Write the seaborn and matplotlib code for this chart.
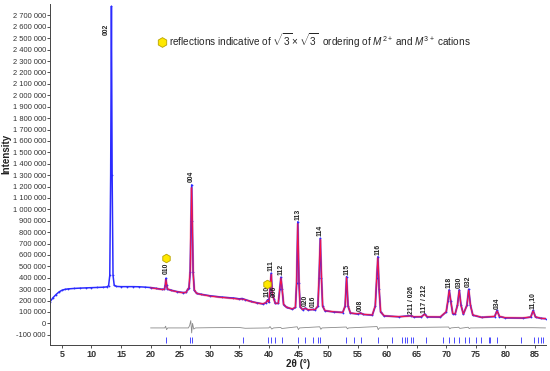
import numpy as np
import pandas as pd
import matplotlib
matplotlib.use("Agg")
import matplotlib.pyplot as plt
from matplotlib.ticker import FuncFormatter, MultipleLocator
from matplotlib.lines import Line2D
import seaborn as sns

obs_tt = [3.0, 3.5, 4.0, 4.5, 5.0, 5.5, 6.0, 7.0, 8.0, 9.0, 10.0, 11.0, 12.0, 12.6, 12.9, 13.1,
          13.25, 13.38, 13.5, 13.65, 13.85, 14.2, 15.0, 16.0, 17.0, 18.0, 19.0, 20.0, 21.0, 22.0,
          22.35, 22.5, 22.6, 22.7, 22.85, 23.5, 24.5, 25.5, 26.0, 26.3, 26.5, 26.7, 26.85, 26.95,
          27.05, 27.2, 27.4, 27.8, 28.5, 30.0, 32.0, 34.0, 35.0, 35.5, 36.0, 37.0, 38.0, 39.0,
          39.5, 39.8, 40.0, 40.2, 40.4, 40.6, 40.85, 41.1, 41.6, 41.85, 42.05, 42.25, 42.5, 43.0,
          44.0, 44.5, 44.7, 44.9, 45.1, 45.3, 45.7, 46.2, 46.6, 47.5, 47.8, 48.3, 48.5, 48.7,
          48.9, 49.1, 49.5, 51.0, 52.5, 52.9, 53.15, 53.4, 53.8, 55.0, 55.5, 56.0, 57.5, 58.0,
          58.25, 58.45, 58.65, 58.9, 59.5, 62.0, 64.1, 64.5, 65.8, 66.35, 66.8, 69.0, 70.0, 70.3,
          70.5, 70.75, 71.1, 71.5, 71.9, 72.2, 72.5, 72.9, 73.5, 73.8, 74.1, 74.5, 76.0, 78.2,
          78.6, 79.0, 80.0, 83.0, 84.3, 84.7, 85.1, 86.0, 86.8]
obs_int = [190000, 225000, 252000, 275000, 290000, 298000, 302000, 306000, 309000, 311000,
           313000, 315000, 317000, 320000, 330000, 420000, 1300000, 2780000, 1300000, 420000,
           335000, 324000, 322000, 322000, 322000, 321000, 318000, 314000, 306000, 298000,
           300000, 340000, 396000, 340000, 300000, 290000, 278000, 270000, 272000, 300000,
           310000, 450000, 900000, 1215000, 900000, 450000, 290000, 262000, 255000, 242000,
           230000, 222000, 215000, 218000, 208000, 192000, 180000, 170000, 180000, 207000,
           185000, 300000, 440000, 250000, 216000, 175000, 175000, 300000, 405000, 300000,
           165000, 140000, 125000, 140000, 350000, 891000, 350000, 145000, 120000, 134000,
           118000, 122000, 118000, 150000, 400000, 746000, 400000, 150000, 110000, 100000,
           95000, 150000, 410000, 150000, 90000, 82000, 91000, 78000, 72000, 150000, 400000,
           585000, 300000, 100000, 65000, 58000, 68000, 56000, 58000, 82000, 56000, 55000,
           100000, 200000, 294000, 200000, 85000, 80000, 160000, 294000, 160000, 80000, 160000,
           300000, 160000, 72000, 52000, 60000, 114000, 60000, 48000, 46000, 55000, 114000,
           55000, 44000, 41000]

# calculated pattern (refined range only)
calc_tt = [20.0, 21.0, 22.0, 22.35, 22.5, 22.6, 22.7, 22.85, 23.5, 24.5, 25.5, 26.0, 26.3, 26.5,
           26.7, 26.85, 26.95, 27.05, 27.2, 27.4, 27.8, 28.5, 30.0, 32.0, 34.0, 35.0, 35.5, 36.0,
           37.0, 38.0, 39.0, 39.5, 39.8, 40.0, 40.2, 40.4, 40.6, 40.85, 41.1, 41.6, 41.85, 42.05,
           42.25, 42.5, 43.0, 44.0, 44.5, 44.7, 44.9, 45.1, 45.3, 45.7, 46.2, 46.6, 47.5, 47.8,
           48.3, 48.5, 48.7, 48.9, 49.1, 49.5, 51.0, 52.5, 52.9, 53.15, 53.4, 53.8, 55.0, 55.5,
           56.0, 57.5, 58.0, 58.25, 58.45, 58.65, 58.9, 59.5, 62.0, 64.1, 64.5, 65.8, 66.35, 66.8,
           69.0, 70.0, 70.3, 70.5, 70.75, 71.1, 71.5, 71.9, 72.2, 72.5, 72.9, 73.5, 73.8, 74.1,
           74.5, 76.0, 78.2, 78.6, 79.0, 80.0, 83.0, 84.3, 84.7, 85.1, 86.0, 86.8]
calc_int = [312000, 305000, 297000, 299000, 335000, 385000, 345000, 302000, 289000, 277000,
            268000, 271000, 298000, 312000, 460000, 910000, 1190000, 920000, 440000, 292000,
            263000, 254000, 240000, 228000, 219000, 212000, 214000, 207000, 191000, 179000,
            171000, 181000, 203000, 186000, 295000, 430000, 252000, 214000, 176000, 176000,
            298000, 398000, 302000, 166000, 141000, 126000, 142000, 360000, 875000, 360000,
            146000, 121000, 132000, 119000, 121000, 119000, 152000, 410000, 735000, 405000,
            152000, 111000, 101000, 96000, 152000, 402000, 152000, 91000, 83000, 90000, 79000,
            73000, 155000, 410000, 575000, 305000, 102000, 66000, 58000, 66000, 57000, 58000,
            80000, 57000, 56000, 102000, 205000, 288000, 205000, 86000, 81000, 158000, 288000,
            158000, 81000, 158000, 292000, 158000, 73000, 53000, 61000, 110000, 61000, 49000,
            47000, 56000, 110000, 56000, 45000, 41000]

# difference curve (already shifted below zero)
diff_tt = [20.0, 22.4, 22.55, 22.7, 22.9, 26.4, 26.6, 26.8, 26.95, 27.1, 27.3, 27.6, 30.0, 35.0,
           36.0, 40.0, 40.2, 40.5, 40.8, 42.0, 42.2, 44.8, 45.0, 45.2, 48.6, 48.8, 49.0, 53.1,
           53.3, 53.5, 58.3, 58.5, 58.7, 70.4, 70.6, 70.8, 72.1, 72.3, 73.7, 73.9, 74.1, 78.6,
           84.7, 86.8]
diff_int = [-40000, -40000, -25000, -55000, -40000, -40000, -20000, 24000, -84000, 0, -50000,
            -40000, -38000, -36000, -43000, -40000, -28000, -50000, -40000, -36000, -45000,
            -30000, -55000, -40000, -30000, -52000, -40000, -32000, -48000, -40000, -28000,
            -55000, -40000, -32000, -48000, -40000, -34000, -44000, -34000, -46000, -40000,
            -38000, -38000, -40000]

# Bragg reflection positions
bragg_tt = [22.6, 26.6, 27.0, 35.6, 39.9, 40.4, 41.0, 42.2, 45.0, 46.2, 47.4, 48.4, 48.7, 53.1,
            54.4, 55.6, 58.4, 60.8, 62.6, 63.0, 63.3, 64.0, 64.3, 66.5, 69.4, 70.5, 71.3, 72.2,
            73.1, 73.8, 75.1, 75.8, 77.2, 77.4, 78.6, 82.6, 84.8, 85.6, 86.0, 86.4]

# hkl labels: text, 2theta, intensity at text bottom
hkl_text = ["002", "004", "010", "110", "111", "006", "112", "113", "020", "016", "114", "115",
            "008", "116", "211 / 026", "117 / 212", "118", "030", "032", "034", "11,10"]
hkl_tt = [12.5, 26.95, 22.6, 39.75, 40.4, 41.0, 42.05, 44.9, 46.2, 47.5, 48.7, 53.15, 55.5,
          58.45, 64.1, 66.35, 70.5, 72.2, 73.8, 78.6, 84.7]
hkl_y = [2530000, 1240000, 430000, 235000, 455000, 228000, 420000, 910000, 148000, 140000,
         762000, 425000, 105000, 600000, 85000, 95000, 310000, 310000, 315000, 128000, 128000]

# superstructure reflections marked with hexagons
super_tt = [22.6, 39.75]
super_y = [572000, 345000]

sns.set_theme(style="ticks")
plt.rcParams['font.family'] = ['Liberation Sans', 'DejaVu Sans']
plt.rcParams['mathtext.fontset'] = 'custom'
plt.rcParams['mathtext.rm'] = 'Liberation Sans'
plt.rcParams['mathtext.it'] = 'Liberation Sans:italic'

fig = plt.figure(figsize=(5.5, 3.71), dpi=100)
ax = fig.add_axes([0.091, 0.070, 0.902, 0.919])

calc = pd.DataFrame({'tt': calc_tt, 'I': calc_int})
obs = pd.DataFrame({'tt': obs_tt, 'I': obs_int})
diff = pd.DataFrame({'tt': diff_tt, 'I': diff_int})

sns.lineplot(data=calc, x='tt', y='I', ax=ax, color='#ffa0ae', lw=1.7, sort=False, estimator=None)
sns.lineplot(data=obs, x='tt', y='I', ax=ax, color='#2b2bff', lw=1.1, sort=False, estimator=None,
             marker='o', markersize=1.3, markeredgewidth=0)
sns.lineplot(data=calc, x='tt', y='I', ax=ax, color='#ff1040', lw=0.7, sort=False, estimator=None)
sns.lineplot(data=diff, x='tt', y='I', ax=ax, color='#8a8a8a', lw=0.6, sort=False, estimator=None)

ax.vlines(bragg_tt, -175000, -120000, color='#4a4aff', lw=0.7)

for t, x, y in zip(hkl_text, hkl_tt, hkl_y):
    ax.text(x, y, t, rotation=90, ha='center', va='bottom', fontsize=4.9,
            color='#222222', fontweight='bold')

ax.scatter(super_tt, super_y, marker='h', s=38, color='#ffe800', edgecolor='#b8a200',
           linewidth=0.6, zorder=5)

handle = Line2D([], [], ls='none', marker='h', markersize=7, markerfacecolor='#ffe800',
                markeredgecolor='#b8a200', markeredgewidth=0.6)
ax.legend([handle], [r"reflections indicative of $\sqrt{3}\times\sqrt{3}$  ordering of "
                     r"$M^{2+}$ and $M^{3+}$ cations"],
          loc='upper left', bbox_to_anchor=(0.205, 0.935), frameon=False, fontsize=7.2,
          handletextpad=0.25, handlelength=1.0, borderpad=0)

ax.set_xlim(3, 86.9)
ax.set_ylim(-190000, 2800000)
ax.xaxis.set_major_locator(MultipleLocator(5))
ax.set_yticks(np.arange(-100000, 2700001, 100000))
ax.yaxis.set_major_formatter(FuncFormatter(lambda v, p: f"{int(round(v)):,}".replace(",", " ")))
ax.tick_params(axis='y', labelsize=5.4, length=2, width=0.6, pad=1, colors='#333333')
ax.tick_params(axis='x', labelsize=6.5, length=2.5, width=0.6, pad=1, colors='#333333')
for lab in ax.get_xticklabels():
    lab.set_fontweight('bold')

ax.set_xlabel("2θ (°)", fontsize=7, fontweight='bold', color='#222222', labelpad=0)
ax.set_ylabel("Intensity", fontsize=7, fontweight='bold', color='#222222')
ax.yaxis.set_label_coords(-0.078, 0.56)

sns.despine(ax=ax)
for s in ['left', 'bottom']:
    ax.spines[s].set_linewidth(0.7)
    ax.spines[s].set_color('#444444')

fig.savefig("out.png", dpi=100)
